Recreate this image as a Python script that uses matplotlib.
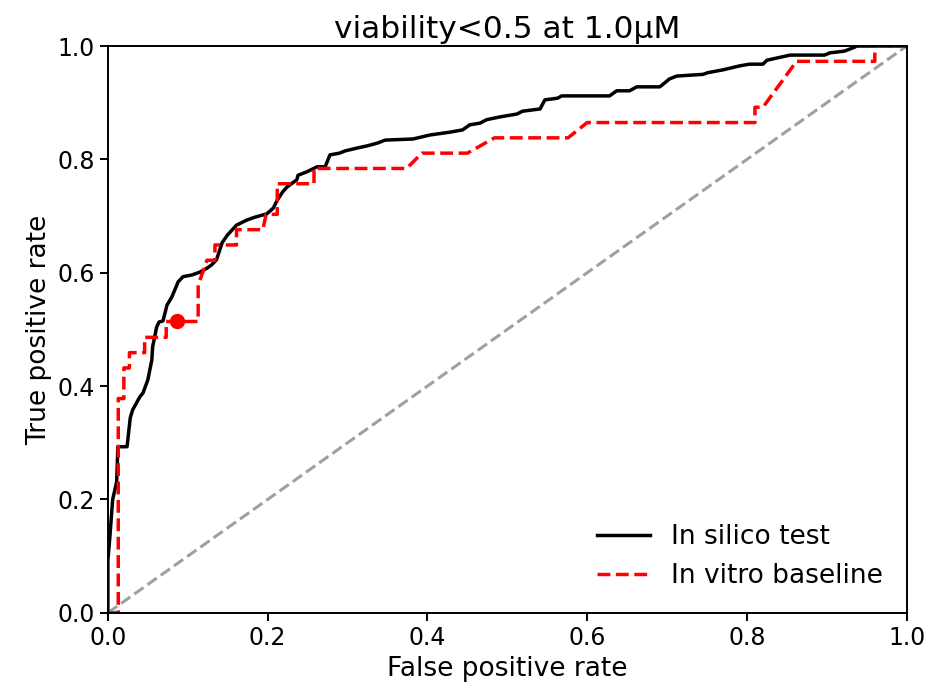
import matplotlib
matplotlib.use("Agg")
import matplotlib.pyplot as plt

# in silico test ROC
silico_fpr = [0.0, 0.0, 0.0025, 0.006, 0.011, 0.0125, 0.024, 0.028, 0.031, 0.040,
              0.044, 0.050, 0.055, 0.056, 0.061, 0.064, 0.069, 0.074, 0.080, 0.088,
              0.094, 0.105, 0.115, 0.124, 0.130, 0.136, 0.143, 0.150, 0.161, 0.174,
              0.184, 0.199, 0.207, 0.212, 0.219, 0.224, 0.2365, 0.238, 0.249, 0.262,
              0.272, 0.278, 0.290, 0.297, 0.312, 0.325, 0.338, 0.347, 0.382, 0.403,
              0.428, 0.444, 0.453, 0.466, 0.474, 0.491, 0.512, 0.519, 0.541, 0.547,
              0.563, 0.568, 0.628, 0.637, 0.653, 0.662, 0.691, 0.703, 0.712, 0.745,
              0.751, 0.770, 0.791, 0.803, 0.820, 0.825, 0.854, 0.897, 0.904, 0.922,
              0.935, 0.937, 1.0]
silico_tpr = [0.0, 0.093, 0.134, 0.200, 0.231, 0.293, 0.293, 0.344, 0.358, 0.381,
              0.388, 0.411, 0.446, 0.469, 0.504, 0.513, 0.515, 0.543, 0.557, 0.584,
              0.593, 0.596, 0.601, 0.608, 0.614, 0.623, 0.653, 0.667, 0.684, 0.693,
              0.698, 0.704, 0.714, 0.728, 0.743, 0.751, 0.764, 0.772, 0.778, 0.787,
              0.787, 0.808, 0.811, 0.815, 0.820, 0.824, 0.829, 0.834, 0.836, 0.843,
              0.848, 0.852, 0.861, 0.864, 0.870, 0.875, 0.880, 0.885, 0.889, 0.905,
              0.908, 0.912, 0.912, 0.921, 0.921, 0.928, 0.928, 0.942, 0.947, 0.950,
              0.953, 0.958, 0.965, 0.968, 0.968, 0.975, 0.984, 0.984, 0.988, 0.991,
              0.998, 1.0, 1.0]

# in vitro baseline ROC
vitro_fpr = [0.0, 0.013, 0.013, 0.020, 0.020, 0.027, 0.027, 0.046, 0.046, 0.073,
             0.073, 0.113, 0.113, 0.124, 0.134, 0.134, 0.161, 0.161, 0.194, 0.198,
             0.212, 0.212, 0.258, 0.258, 0.374, 0.393, 0.450, 0.484, 0.576, 0.600,
             0.810, 0.810, 0.820, 0.862, 0.960, 0.960, 1.0]
vitro_tpr = [0.0, 0.0, 0.378, 0.378, 0.432, 0.432, 0.459, 0.459, 0.486, 0.486,
             0.514, 0.514, 0.578, 0.622, 0.622, 0.649, 0.649, 0.676, 0.676, 0.703,
             0.703, 0.757, 0.757, 0.784, 0.784, 0.811, 0.811, 0.838, 0.838, 0.865,
             0.865, 0.892, 0.892, 0.973, 0.973, 1.0, 1.0]

# operating point of the in vitro assay
point_fpr = 0.086
point_tpr = 0.514

fig = plt.figure(figsize=(9.3, 6.87), dpi=100)
ax = fig.add_subplot(111)
fig.subplots_adjust(left=0.116, right=0.975, top=0.933, bottom=0.108)

ax.plot([0, 1], [0, 1], linestyle='--', color='#a0a0a0', linewidth=2.2)
ax.plot(silico_fpr, silico_tpr, color='black', linewidth=2.5, label='In silico test')
ax.plot(vitro_fpr, vitro_tpr, color='red', linestyle='--', linewidth=2.5,
        label='In vitro baseline')
ax.plot(point_fpr, point_tpr, 'o', color='red', markersize=10)

ax.set_xlim(0, 1)
ax.set_ylim(0, 1)
ax.set_xlabel('False positive rate', fontsize=19)
ax.set_ylabel('True positive rate', fontsize=19)
ax.set_title('viability<0.5 at 1.0μM', fontsize=22.5)
ax.tick_params(labelsize=17, width=1.4, length=6)
for s in ax.spines.values():
    s.set_linewidth(1.4)
ax.legend(loc='lower right', fontsize=19, frameon=False)

fig.savefig('out.png', dpi=100)
